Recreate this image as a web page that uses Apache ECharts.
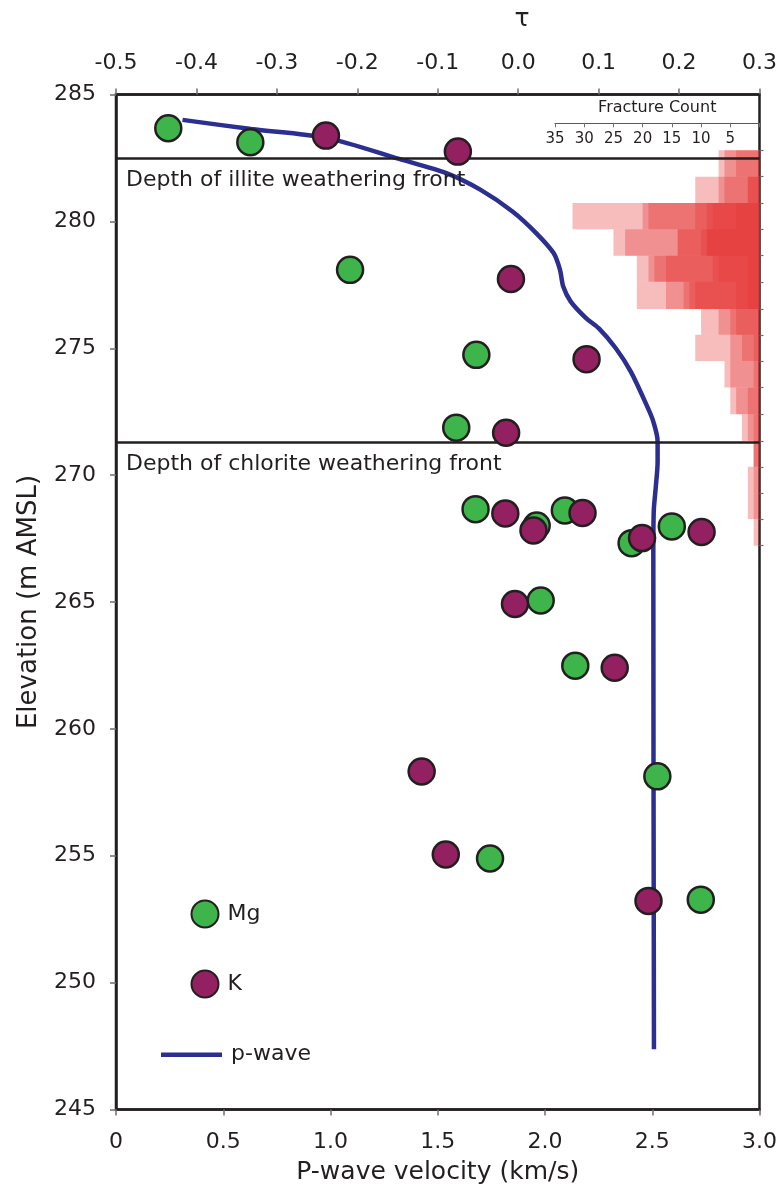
<!DOCTYPE html>
<html>
<head>
<meta charset="utf-8">
<script src="https://cdn.jsdelivr.net/npm/echarts@6/dist/echarts.min.js"></script>
<style>
html,body{margin:0;padding:0;background:#fff;}
#chart{width:783px;height:1197px;}
</style>
</head>
<body>
<div id="chart"></div>
<script>
// ---- data ----
// Mg (green) points: tau vs elevation
const mgTau  = [-0.435, -0.333, -0.209, -0.052, -0.077, -0.053, 0.023, 0.058, 0.141, 0.191, 0.028, 0.071, 0.173, -0.035, 0.227];
const mgElev = [283.67, 283.12, 278.09, 274.74, 271.87, 268.66, 268.01, 268.61, 267.32, 267.98, 265.06, 262.49, 258.13, 254.89, 253.27];
// K (purple) points
const kTau  = [-0.239, -0.075, -0.009, 0.085, -0.015, -0.016, 0.019, 0.080, 0.154, 0.228, -0.004, 0.120, -0.120, -0.090, 0.162];
const kElev = [283.38, 282.75, 277.73, 274.57, 271.67, 268.49, 267.82, 268.51, 267.52, 267.76, 264.92, 262.41, 258.32, 255.05, 253.22];
// p-wave velocity profile
const pwaveVel  = [0.31, 0.63, 0.98, 1.32, 1.54, 1.70, 1.85, 1.96, 2.04, 2.07, 2.085, 2.12, 2.19, 2.25, 2.33, 2.40, 2.48, 2.505, 2.525, 2.525, 2.516, 2.507, 2.505, 2.508];
const pwaveElev = [284.00, 283.64, 283.29, 282.46, 281.90, 281.24, 280.38, 279.53, 278.75, 278.09, 277.43, 276.84, 276.20, 275.79, 275.00, 274.08, 272.64, 272.11, 271.33, 270.54, 269.49, 268.57, 266.86, 247.37];
// weathering fronts (elevation)
const illiteFront = 282.49;
const chloriteFront = 271.29;
// fracture count histogram: bin edges (elevation) and overlapping layers of counts
const binEdges = [282.80, 281.76, 280.72, 279.69, 278.65, 277.62, 276.55, 275.53, 274.50, 273.45, 272.40, 271.35, 270.33, 269.29, 268.27, 267.22];
const fracLayer1 = [7, 11, 32, 25, 21, 21, 10, 11, 6, 5, 3, 1, 2, 2, 1];
const fracLayer2 = [6, 7, 20, 23, 19, 16, 7, 5, 5, 4, 2, 1, 1, 1, 0];
const fracLayer3 = [4, 6, 19, 14, 18, 13, 5, 3, 1, 2, 1, 1, 0, 0, 0];
const fracLayer4 = [0, 2, 11, 14, 16, 12, 4, 1, 0, 0, 0, 0, 0, 0, 0];
const fracLayer5 = [0, 2, 9, 10, 8, 11, 0, 0, 0, 0, 0, 0, 0, 0, 0];
const fracLayer6 = [0, 0, 8, 9, 7, 4, 0, 0, 0, 0, 0, 0, 0, 0, 0];
const fracLayer7 = [0, 0, 4, 9, 2, 2, 0, 0, 0, 0, 0, 0, 0, 0, 0];
// axis ticks
const velTicks = {min: 0, max: 3, interval: 0.5};
const tauTicks = {min: -0.5, max: 0.3, interval: 0.1};
const elevTicks = {min: 245, max: 285, interval: 5};
const countTicks = {min: 0, max: 35, interval: 5};

// ---- layout ----
const FONT = 'DejaVu Sans';
const INK = '#231f20';
const TICK = '#6d6e71';
const G = {left: 116, right: 23.5, top: 94.5, bottom: 87.5};

const zip = (a, b) => a.map((v, i) => [v, b[i]]);
const layers = [fracLayer1, fracLayer2, fracLayer3, fracLayer4, fracLayer5, fracLayer6, fracLayer7];

function rectData(layer) {
  const out = [];
  layer.forEach((c, i) => { if (c > 0) out.push([c, binEdges[i], binEdges[i + 1]]); });
  return out;
}
function renderBar(params, api) {
  const a = api.coord([api.value(0), api.value(1)]);
  const b = api.coord([0, api.value(2)]);
  return {
    type: 'rect',
    shape: {x: Math.min(a[0], b[0]), y: Math.min(a[1], b[1]), width: Math.abs(b[0] - a[0]), height: Math.abs(b[1] - a[1])},
    style: {fill: 'rgba(231,54,54,0.33)'}
  };
}

const chart = echarts.init(document.getElementById('chart'), null, {renderer: 'canvas'});

const histSeries = layers.map((l, k) => ({
  type: 'custom', name: 'fractures ' + (k + 1), xAxisIndex: 2, yAxisIndex: 1,
  renderItem: renderBar, data: rectData(l), encode: {x: 0, y: [1, 2]}, z: 2, silent: true, clip: false
}));

const legendText = {fontSize: 22, color: INK, fontFamily: FONT, padding: [0, 0, 0, 4]};

const option = {
  animation: false,
  backgroundColor: '#ffffff',
  textStyle: {fontFamily: FONT, color: INK},
  title: {text: 'τ', left: 517, top: 2, textAlign: 'center',
    textStyle: {fontFamily: FONT, fontSize: 25, fontWeight: 'normal', color: INK}},
  grid: [
    Object.assign({show: true, borderColor: INK, borderWidth: 2.5, containLabel: false}, G),
    {left: 555, right: G.right, top: G.top, bottom: G.bottom, containLabel: false, show: false}
  ],
  xAxis: [
    {type: 'value', gridIndex: 0, position: 'bottom', min: velTicks.min, max: velTicks.max, interval: velTicks.interval,
      name: 'P-wave velocity (km/s)', nameLocation: 'middle', nameGap: 50,
      nameTextStyle: {fontSize: 25, color: INK, fontFamily: FONT},
      axisLine: {show: true, lineStyle: {color: INK, width: 2.5}},
      axisTick: {show: true, length: 6, lineStyle: {color: TICK, width: 1.5}},
      axisLabel: {fontSize: 22, color: INK, margin: 22, fontFamily: FONT,
        formatter: v => (Math.abs(v) < 1e-9 ? '0' : v.toFixed(1))},
      splitLine: {show: false}},
    {type: 'value', gridIndex: 0, position: 'top', min: tauTicks.min, max: tauTicks.max, interval: tauTicks.interval,
      axisLine: {show: true, lineStyle: {color: INK, width: 2.5}},
      axisTick: {show: true, length: 6, lineStyle: {color: TICK, width: 1.5}},
      axisLabel: {fontSize: 22, color: INK, margin: 20, fontFamily: FONT,
        formatter: v => (Math.abs(v) < 1e-9 ? '0.0' : v.toFixed(1))},
      splitLine: {show: false}},
    {type: 'value', gridIndex: 1, position: 'top', offset: -28.8, inverse: true,
      min: countTicks.min, max: countTicks.max, interval: countTicks.interval,
      name: 'Fracture Count', nameLocation: 'middle', nameGap: 7,
      nameTextStyle: {fontSize: 16, color: INK, fontFamily: FONT},
      axisLine: {show: true, lineStyle: {color: '#58595b', width: 1.2}},
      axisTick: {show: true, inside: true, length: 4, lineStyle: {color: TICK, width: 1}},
      axisLabel: {inside: true, fontSize: 15, color: INK, margin: 8, fontFamily: FONT,
        formatter: v => (v === 0 ? '' : String(v))},
      splitLine: {show: false}}
  ],
  yAxis: [
    {type: 'value', gridIndex: 0, min: elevTicks.min, max: elevTicks.max, interval: elevTicks.interval,
      name: 'Elevation (m AMSL)', nameLocation: 'middle', nameGap: 74,
      nameTextStyle: {fontSize: 26, color: INK, fontFamily: FONT},
      axisLine: {show: true, lineStyle: {color: INK, width: 2.5}},
      axisTick: {show: true, length: 6, lineStyle: {color: TICK, width: 1.5}},
      axisLabel: {fontSize: 22, color: INK, margin: 20, fontFamily: FONT},
      splitLine: {show: false}},
    {type: 'value', gridIndex: 1, position: 'right', min: elevTicks.min, max: elevTicks.max,
      axisLine: {show: false}, axisLabel: {show: false}, splitLine: {show: false},
      axisTick: {show: true, length: 4, customValues: binEdges, lineStyle: {color: TICK, width: 1.2}}}
  ],
  legend: [
    {data: ['Mg'], left: 190.5, top: 899.5, padding: 0, icon: 'circle', itemWidth: 27, itemHeight: 27,
      textStyle: legendText, selectedMode: false},
    {data: ['K'], left: 190.5, top: 969.5, padding: 0, icon: 'circle', itemWidth: 27, itemHeight: 27,
      textStyle: legendText, selectedMode: false},
    {data: [{name: 'p-wave', icon: 'rect'}], left: 161, top: 1043.7, padding: 0, itemWidth: 61, itemHeight: 4.5,
      textStyle: legendText, selectedMode: false}
  ],
  series: [
    {type: 'line', name: 'fronts', xAxisIndex: 0, yAxisIndex: 0, data: [], z: 1, silent: true,
      markLine: {symbol: ['none', 'none'], silent: true,
        lineStyle: {color: INK, width: 2.5, type: 'solid'},
        label: {show: true, formatter: '{b}', position: 'insideStartBottom', fontSize: 22, color: INK,
          fontFamily: FONT, distance: [10, 11]},
        data: [
          {yAxis: illiteFront, name: 'Depth of illite weathering front'},
          {yAxis: chloriteFront, name: 'Depth of chlorite weathering front'}
        ]}},
    ...histSeries,
    {type: 'line', name: 'p-wave', xAxisIndex: 0, yAxisIndex: 0, data: zip(pwaveVel, pwaveElev),
      smooth: 0.3, symbol: 'none', showSymbol: false, z: 3,
      lineStyle: {color: '#2b2f8f', width: 4.5}, itemStyle: {color: '#2b2f8f'}},
    {type: 'scatter', name: 'Mg', xAxisIndex: 1, yAxisIndex: 0, data: zip(mgTau, mgElev), z: 4,
      symbol: 'circle', symbolSize: 26,
      itemStyle: {color: '#3db54a', borderColor: INK, borderWidth: 2.5, opacity: 1}},
    {type: 'scatter', name: 'K', xAxisIndex: 1, yAxisIndex: 0, data: zip(kTau, kElev), z: 5,
      symbol: 'circle', symbolSize: 26,
      itemStyle: {color: '#932162', borderColor: INK, borderWidth: 2.5, opacity: 1}}
  ]
};
chart.setOption(option);
</script>
</body>
</html>
